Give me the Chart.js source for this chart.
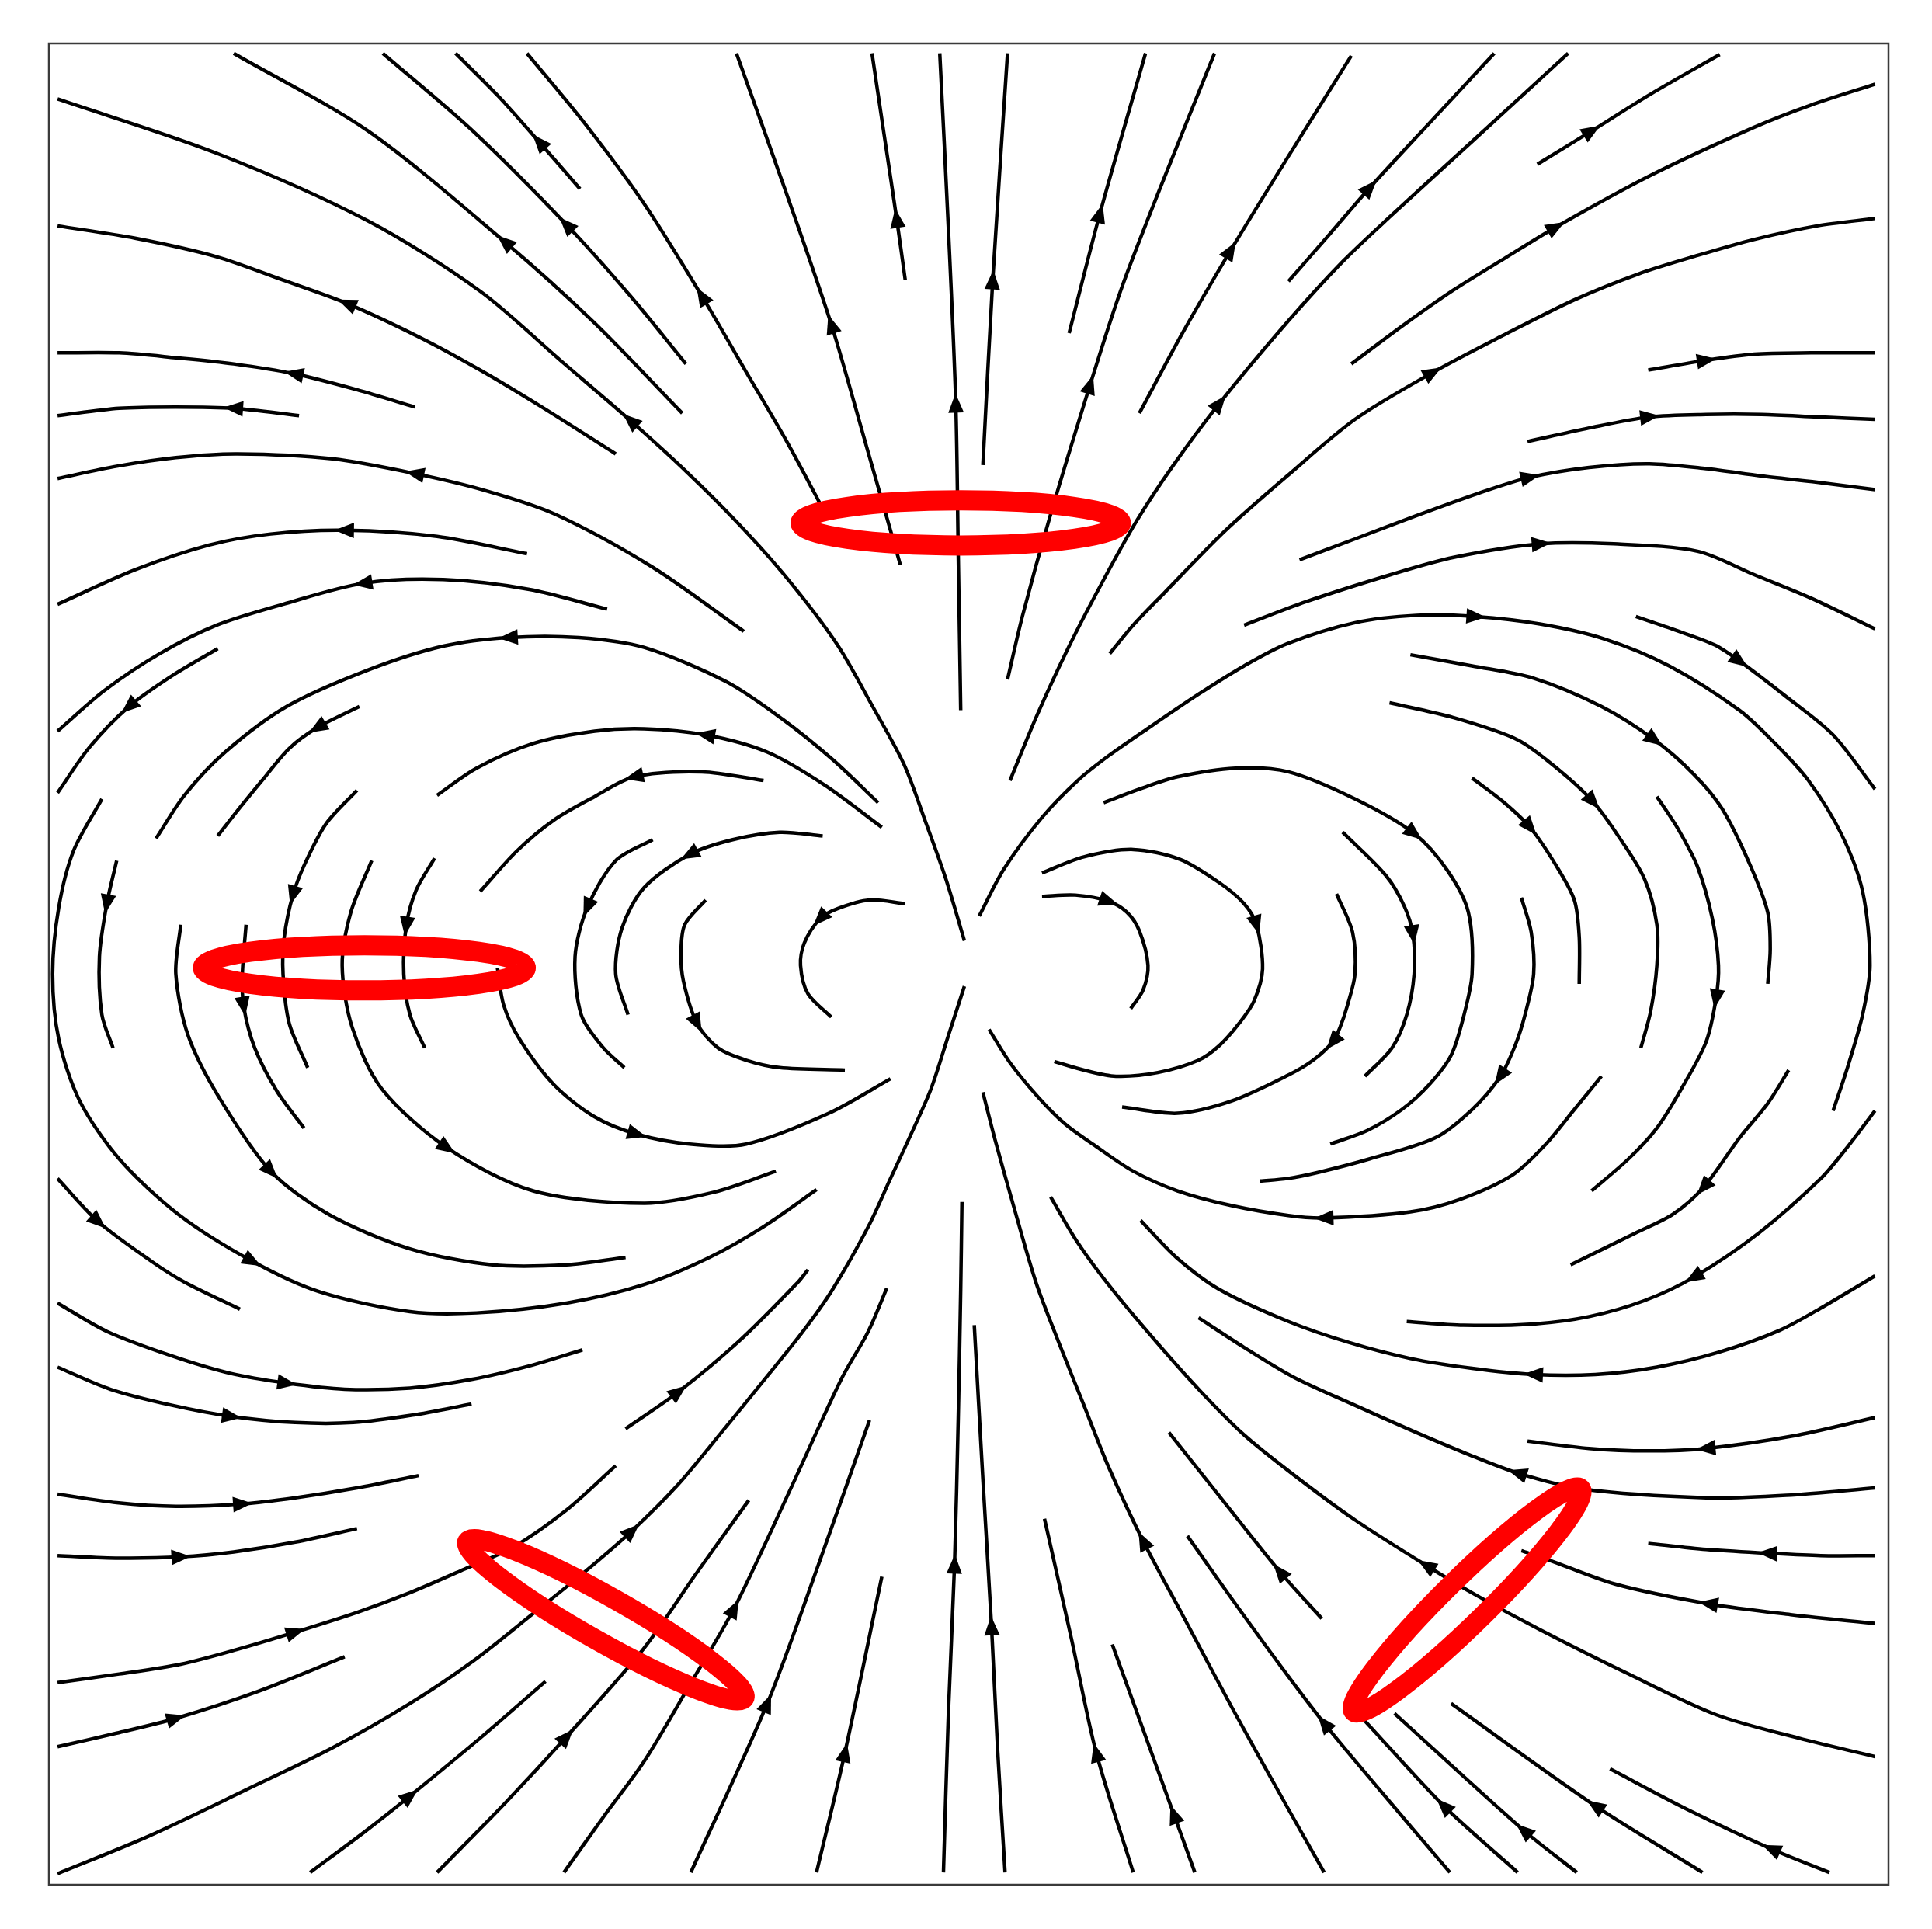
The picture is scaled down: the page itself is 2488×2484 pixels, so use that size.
<!DOCTYPE html>
<html>
<head>
<meta charset="utf-8">
<script src="https://cdn.jsdelivr.net/npm/chart.js@4.4.1/dist/chart.umd.min.js"></script>
<style>
  html, body { margin: 0; background: #fff; }
</style>
</head>
<body>
<canvas id="fieldChart" width="2488" height="2484"></canvas>
<script>
// streamlines, each point list runs in the direction of the flow
// arrow arrays give the index of the point carrying the arrow head
const fanTopLines = [
    [[731,458],[703,360],[675,263],[638,155],[598,43]],
    [[672,420],[640,360],[605,300],[570,240],[523,165],[475,100],[428,43]],
    [[471,153],[438,115],[405,78],[370,43]],
    [[557,295],[512,240],[460,182],[384,106],[311,43]],
    [[554,335],[482,261],[410,196],[299,106],[190,43]],
    [[735,227],[728,177],[718,110],[708,43]],
    [[780,576],[778,450],[776,327],[770,185],[763,43]],
    [[798,377],[806,227],[818,43]],
    [[868,270],[893,173],[930,43]],
    [[818,551],[830,500],[853,417],[885,312],[910,235],[940,157],[986,43]],
    [[925,335],[960,270],[999,203],[1045,128],[1097,45]],
    [[820,633],[842,580],[868,524],[895,472],[923,422],[952,378],[990,327],[1046,260],[1090,212],[1129,175],[1200,110],[1273,43]],
    [[1046,228],[1080,189],[1112,152],[1160,100],[1213,43]],
    [[1248,133],[1292,106],[1340,76],[1396,44]]
];
const fanTopArrows = [2, 3, 1, 2, 2, 1, 2, 1, 1, 3, 2, 6, 2, 1];

const leftLoopLines = [
    [[783,763],[768,713],[752,668],[734,620],[708,572],[680,523],[640,470],[600,425],[558,383],[512,341],[455,292],[390,236],[299,179],[176,124],[47,80]],
    [[500,368],[440,330],[390,300],[340,273],[282,246],[230,227],[176,208],[110,193],[47,183]],
    [[337,330],[290,316],[239,303],[190,295],[143,290],[97,286],[47,286]],
    [[243,337],[190,331],[143,330],[97,331],[47,337]],
    [[604,512],[530,460],[451,417],[395,398],[337,384],[270,372],[193,368],[143,371],[95,378],[47,388]],
    [[428,449],[355,435],[280,430],[220,433],[170,442],[110,462],[47,490]],
    [[493,494],[430,478],[360,470],[295,473],[230,490],[176,507],[130,530],[85,560],[47,593]],
    [[177,526],[140,548],[105,573],[73,606],[47,643]],
    [[713,651],[676,616],[635,583],[590,553],[523,525],[470,517],[413,517],[360,524],[300,543],[233,573],[183,610],[150,645],[127,680]],
    [[83,648],[60,690],[48,736],[43,790],[48,843],[65,893],[97,940],[145,985],[205,1023],[260,1048],[333,1064],[387,1065],[460,1057],[523,1042],[576,1020],[620,995],[663,965]],
    [[95,698],[87,733],[81,776],[83,823],[92,850]],
    [[147,750],[143,790],[153,840],[178,890],[220,950],[267,985],[333,1013],[400,1026],[460,1026],[508,1020]],
    [[292,573],[258,590],[235,607],[213,633],[195,655],[177,678]],
    [[200,750],[197,790],[198,816],[207,850],[225,885],[247,915]],
    [[290,641],[265,668],[248,700],[238,726],[231,760],[230,790],[235,830],[250,866]],
    [[302,698],[285,740],[278,783],[286,833],[310,883],[363,931],[433,966],[523,976],[580,967],[630,950]],
    [[716,671],[670,637],[623,610],[573,596],[523,591],[483,593],[433,603],[387,623],[355,645]],
    [[353,696],[338,722],[330,751],[328,790],[333,823],[345,850]],
    [[620,633],[570,626],[515,630],[483,646],[450,665],[420,690],[390,723]],
    [[404,785],[409,815],[422,843],[450,880],[483,906],[517,920],[560,928],[606,928],[673,903],[723,875]],
    [[530,681],[500,698],[477,736],[467,776],[472,823],[490,850],[507,866]],
    [[668,678],[633,675],[595,681],[560,693],[523,720],[505,753],[500,790],[510,823]],
    [[573,730],[556,750],[553,773],[555,796],[566,830],[583,850],[606,860],[633,866],[686,868]],
    [[735,733],[706,730],[680,737],[666,745],[653,765],[650,783],[656,806],[675,825]],
    [[47,956],[80,991],[123,1023],[150,1040],[195,1062]],
    [[47,1057],[87,1080],[140,1100],[187,1114],[233,1122],[280,1127],[333,1126],[383,1119],[430,1108],[473,1095]],
    [[47,1109],[90,1127],[140,1140],[188,1149],[240,1154],[287,1154],[335,1148],[383,1139]],
    [[47,1212],[95,1219],[143,1222],[197,1220],[240,1215],[290,1207],[340,1197]],
    [[47,1262],[97,1264],[147,1263],[190,1259],[240,1251],[290,1240]],
    [[47,1365],[97,1358],[147,1350],[193,1338],[240,1324],[290,1308],[333,1292],[377,1273],[417,1255],[460,1225],[500,1189]],
    [[47,1417],[95,1406],[143,1394],[210,1372],[280,1344]]
];
const leftLoopArrows = [9, 4, 2, 1, 4, 2, 3, 2, 6, 8, 1, 4, 1, 2, 3, 5, 3, 2, 2, 5, 2, 3, 4, 3, 1, 4, 3, 3, 2, 4, 2];

const fanBottomLines = [
    [[47,1520],[120,1490],[200,1452],[270,1418],[333,1382],[385,1347],[433,1309],[475,1275],[513,1242],[550,1205],[585,1163],[620,1120],[652,1080],[676,1046],[705,995],[723,956],[742,915],[756,883],[770,840],[783,800]],
    [[252,1519],[295,1487],[333,1457],[390,1410],[443,1364]],
    [[355,1519],[410,1463],[460,1409],[523,1337],[565,1277],[608,1217]],
    [[458,1519],[490,1474],[523,1429],[560,1367],[596,1305],[640,1212],[683,1119],[705,1080],[720,1045]],
    [[508,1159],[551,1129],[600,1088],[648,1040],[656,1030]],
    [[561,1519],[623,1382],[665,1268],[706,1152]],
    [[663,1519],[686,1422],[716,1279]],
    [[766,1519],[770,1390],[775,1269],[778,1150],[780,1046],[781,975]],
    [[816,1519],[810,1420],[805,1319],[798,1200],[791,1075]],
    [[920,1519],[890,1422],[870,1330],[848,1232]],
    [[970,1519],[953,1472],[903,1334]],
    [[1075,1519],[1045,1466],[1000,1385],[960,1310],[928,1250],[900,1190],[880,1140],[860,1090],[841,1040],[822,975],[808,925],[798,886]],
    [[1177,1519],[1120,1452],[1075,1398],[1040,1352],[1000,1297],[964,1246]],
    [[1232,1519],[1172,1465],[1108,1396]],
    [[1280,1519],[1237,1485],[1132,1390]],
    [[1382,1519],[1295,1465],[1178,1382]],
    [[1485,1519],[1438,1500],[1370,1468],[1307,1435]],
    [[1073,1313],[1039,1275],[995,1220],[949,1162]]
];
const fanBottomArrows = [8, 2, 2, 4, 1, 1, 1, 2, 2, 1, 1, 4, 2, 1, 1, 1, 1, 1];

const rightLoopLines = [
    [[1522,1425],[1460,1410],[1393,1391],[1320,1357],[1250,1322],[1200,1295],[1158,1270],[1100,1233],[1051,1197],[1010,1164],[975,1129],[940,1090],[903,1046],[875,1008],[853,971]],
    [[1522,1317],[1455,1310],[1387,1301],[1311,1285],[1256,1265],[1235,1258]],
    [[1522,1262],[1478,1262],[1435,1260],[1385,1257],[1338,1252]],
    [[1522,1207],[1450,1213],[1385,1215],[1285,1208],[1232,1195],[1190,1179],[1145,1160],[1100,1140],[1050,1117],[1010,1093],[973,1069]],
    [[1522,1150],[1455,1165],[1385,1175],[1338,1177],[1290,1175],[1240,1169]],
    [[1522,1035],[1480,1060],[1445,1079],[1395,1097],[1345,1109],[1295,1115],[1245,1115],[1195,1110],[1145,1102],[1095,1089],[1046,1072],[990,1046],[955,1020],[926,990]],
    [[1522,901],[1500,930],[1478,956],[1428,1000],[1375,1036],[1335,1055],[1290,1068],[1245,1074],[1188,1075],[1142,1072]],
    [[1452,868],[1435,895],[1412,923],[1383,963],[1358,985],[1328,1000],[1275,1026]],
    [[1345,646],[1362,672],[1378,703],[1390,745],[1395,783],[1393,810],[1385,845],[1365,883],[1345,915],[1322,940],[1292,966]],
    [[1300,873],[1278,900],[1255,928],[1228,953],[1185,973],[1145,983],[1075,988],[1046,986],[1000,978],[956,966],[920,950],[890,930],[865,912],[843,890],[820,862],[803,835]],
    [[1235,728],[1243,756],[1245,790],[1238,823],[1230,848],[1218,873],[1195,900],[1165,923],[1112,940],[1070,951],[1045,956],[1023,958]],
    [[1090,675],[1125,710],[1140,735],[1147,758],[1148,790],[1142,823],[1130,850],[1108,873]],
    [[1085,725],[1098,756],[1100,790],[1094,815],[1088,833],[1082,845],[1066,860],[1046,872],[1000,893],[956,903],[911,898]],
    [[846,708],[880,695],[920,689],[958,697],[990,716],[1010,733],[1020,750],[1025,786],[1018,812],[1006,830],[990,848],[973,860],[940,870],[906,873],[880,868],[856,861]],
    [[846,727],[873,726],[900,731],[915,740],[925,755],[932,783],[928,803],[918,818]],
    [[896,651],[925,640],[956,630],[1003,623],[1046,626],[1100,648],[1148,676],[1175,706],[1192,740],[1195,790],[1188,825],[1178,856],[1160,880],[1138,900],[1110,917],[1080,928]],
    [[1195,631],[1220,650],[1242,671],[1262,700],[1278,730],[1282,760],[1282,798]],
    [[1128,570],[1180,582],[1232,600],[1265,624],[1293,650],[1315,680],[1335,713],[1345,750],[1345,783],[1340,820],[1332,850]],
    [[1145,531],[1195,540],[1245,550],[1300,573],[1343,600],[1375,628],[1398,656],[1420,700],[1435,740],[1437,770],[1435,798]],
    [[795,743],[815,705],[846,663],[875,633],[900,613],[933,590],[973,563],[1010,540],[1045,522],[1100,505],[1150,499],[1198,500],[1250,506],[1302,518],[1355,540],[1412,576],[1440,602],[1468,633],[1495,677],[1512,723],[1518,783],[1512,823],[1500,865],[1488,901]],
    [[1328,500],[1360,511],[1392,523],[1412,536],[1450,565],[1488,596],[1522,640]],
    [[1010,507],[1060,488],[1129,466],[1180,452],[1251,441],[1310,441],[1378,447],[1424,466],[1470,485],[1522,510]],
    [[1055,454],[1100,437],[1150,418],[1200,400],[1242,387],[1290,379],[1339,376],[1385,380],[1430,386],[1475,391],[1522,397]],
    [[1240,358],[1290,347],[1339,338],[1385,336],[1430,336],[1475,338],[1522,340]],
    [[1338,300],[1385,292],[1424,287],[1470,286],[1522,286]],
    [[901,530],[920,507],[945,481],[995,430],[1046,385],[1100,340],[1163,302],[1220,272],[1278,243],[1330,222],[1378,207],[1424,194],[1475,183],[1522,177]],
    [[1097,295],[1140,263],[1180,235],[1222,209],[1263,184],[1340,142],[1424,103],[1470,85],[1522,68]]
];
const rightLoopArrows = [6, 2, 2, 4, 2, 6, 4, 3, 5, 6, 5, 3, 5, 6, 2, 6, 2, 4, 4, 11, 3, 4, 4, 2, 1, 6, 4];

// current loops seen in perspective: centre, half axes (data units), tilt in degrees
const loopX = [780, 296, 492, 1191];
const loopY = [424, 785, 1314, 1298];
const loopA = [130, 131, 129, 129];
const loopB = [18.3, 18.3, 18, 18];
const loopTilt = [0, 0, 29.5, -44.5];

const allLines = [].concat(fanTopLines, leftLoopLines, fanBottomLines, rightLoopLines);
const allArrows = [].concat(fanTopArrows, leftLoopArrows, fanBottomArrows, rightLoopArrows);

const datasets = allLines.map((line, i) => ({
    data: line.map(p => ({ x: p[0], y: p[1] })),
    arrowAt: allArrows[i],
    showLine: true,
    borderColor: '#000',
    borderWidth: 4.5,
    pointRadius: 0,
    tension: 0.3,
    fill: false
}));

const arrowHeads = {
    id: 'arrowHeads',
    afterDatasetsDraw(chart) {
        const ctx = chart.ctx;
        const xs = chart.scales.x, ys = chart.scales.y;
        ctx.save();
        ctx.fillStyle = '#000';
        chart.data.datasets.forEach(ds => {
            const k = ds.arrowAt;
            if (k == null || k < 0) return;
            const pts = ds.data;
            const a = pts[Math.max(k - 1, 0)];
            const b = pts[Math.min(k + 1, pts.length - 1)];
            const px = xs.getPixelForValue(pts[k].x);
            const py = ys.getPixelForValue(pts[k].y);
            const ang = Math.atan2(ys.getPixelForValue(b.y) - ys.getPixelForValue(a.y),
                                   xs.getPixelForValue(b.x) - xs.getPixelForValue(a.x));
            ctx.save();
            ctx.translate(px, py);
            ctx.rotate(ang);
            ctx.beginPath();
            ctx.moveTo(13, 0);
            ctx.lineTo(-12, -10);
            ctx.lineTo(-12, 10);
            ctx.closePath();
            ctx.fill();
            ctx.restore();
        });
        ctx.restore();
    }
};

const loopsAndFrame = {
    id: 'loopsAndFrame',
    afterDraw(chart) {
        const ctx = chart.ctx;
        const xs = chart.scales.x, ys = chart.scales.y;
        const unit = Math.abs(xs.getPixelForValue(1) - xs.getPixelForValue(0));
        ctx.save();
        ctx.strokeStyle = '#ff0000';
        ctx.lineWidth = 26;
        loopX.forEach((cx, i) => {
            ctx.beginPath();
            ctx.ellipse(xs.getPixelForValue(cx), ys.getPixelForValue(loopY[i]),
                        loopA[i] * unit, loopB[i] * unit, loopTilt[i] * Math.PI / 180, 0, Math.PI * 2);
            ctx.stroke();
        });
        const area = chart.chartArea;
        ctx.strokeStyle = '#3a3a3a';
        ctx.lineWidth = 2.5;
        ctx.strokeRect(area.left, area.top, area.right - area.left, area.bottom - area.top);
        ctx.restore();
    }
};

new Chart(document.getElementById('fieldChart').getContext('2d'), {
    type: 'scatter',
    data: { datasets: datasets },
    options: {
        responsive: false,
        animation: false,
        devicePixelRatio: 1,
        events: [],
        layout: { padding: { left: 63, right: 56, top: 56, bottom: 57 } },
        plugins: {
            legend: { display: false },
            tooltip: { enabled: false }
        },
        scales: {
            x: { type: 'linear', min: 40, max: 1533, display: false },
            y: { type: 'linear', min: 35, max: 1529, reverse: true, display: false }
        }
    },
    plugins: [arrowHeads, loopsAndFrame]
});
</script>
</body>
</html>
